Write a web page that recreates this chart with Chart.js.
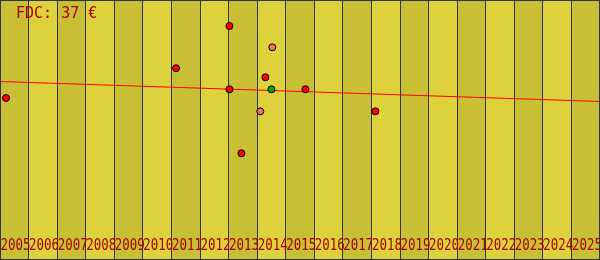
<!DOCTYPE html>
<html>
<head>
<meta charset="utf-8">
<script src="https://cdn.jsdelivr.net/npm/chart.js@4"></script>
<style>
html,body{margin:0;padding:0;background:#ddd23c;}
#c{display:block;}
</style>
</head>
<body>
<canvas id="c" width="600" height="260"></canvas>
<script>
// ---- data ----
const years = [2005,2006,2007,2008,2009,2010,2011,2012,2013,2014,2015,2016,2017,2018,2019,2020,2021,2022,2023,2024,2025];
const tickLabels = ['2005','2006','2007','2008','2009','2010','2011','2012','2013','2014','2015','2016','2017','2018','2019','2020','2021','2022','2023','2024','2025'];
const titleText = 'FDC: 37 €';

const redX = [2005.21, 2011.16, 2013.03, 2013.03, 2013.45, 2014.29, 2015.69, 2018.14];
const redY = [37.38, 44.24, 54.0, 39.39, 24.62, 42.16, 39.39, 34.3];
const pinkX = [2014.53, 2014.11];
const pinkY = [49.08, 34.3];
const greenX = [2014.50];
const greenY = [39.39];
const trendX = [2005, 2026];
const trendY = [41.19, 36.58];

const toPts = (xs, ys) => xs.map((x, i) => ({x: x, y: ys[i]}));

const bandPlugin = {
  id: 'bands',
  beforeDraw(chart) {
    const ctx = chart.ctx, xs = chart.scales.x, area = chart.chartArea;
    ctx.save();
    years.forEach((yr, i) => {
      const x0 = xs.getPixelForValue(yr), x1 = xs.getPixelForValue(yr + 1);
      ctx.fillStyle = (i % 2 === 0) ? '#c9bf34' : '#ddd23c';
      ctx.fillRect(x0, area.top, x1 - x0, area.bottom - area.top);
    });
    ctx.restore();
  },
  afterDraw(chart) {
    const ctx = chart.ctx, xs = chart.scales.x;
    ctx.save();
    ctx.fillStyle = '#a80000';
    ctx.font = '16px "DejaVu Sans Mono", monospace';
    ctx.textBaseline = 'alphabetic';
    ctx.textAlign = 'left';
    years.forEach((yr, i) => {
      const x0 = xs.getPixelForValue(yr);
      ctx.fillText(tickLabels[i], x0 + 0.5, 250, 30);
    });
    ctx.font = '15px "DejaVu Sans Mono", monospace';
    ctx.fillText(titleText, 16, 18);
    ctx.strokeStyle = '#333340';
    ctx.lineWidth = 1;
    ctx.strokeRect(0.5, 0.5, chart.width - 1, chart.height - 1);
    ctx.restore();
  }
};

new Chart(document.getElementById('c'), {
  type: 'scatter',
  data: {
    datasets: [
      {data: toPts(greenX, greenY), backgroundColor: '#10a010', borderColor: '#000', borderWidth: 1, pointRadius: 3.5, order: 1},
      {data: toPts(pinkX, pinkY), backgroundColor: '#f07070', borderColor: '#000', borderWidth: 1, pointRadius: 3.5, order: 2},
      {data: toPts(redX, redY), backgroundColor: '#ff0000', borderColor: '#000', borderWidth: 1, pointRadius: 3.5, order: 3},
      {data: toPts(trendX, trendY), showLine: true, borderColor: '#ff0000', borderWidth: 1, pointRadius: 0, fill: false, order: 4}
    ]
  },
  options: {
    responsive: false,
    animation: false,
    devicePixelRatio: 1,
    layout: {padding: 0, autoPadding: false},
    plugins: {legend: {display: false}, tooltip: {enabled: false}, title: {display: false}},
    scales: {
      x: {
        type: 'linear', min: 2005, max: 2026,
        ticks: {display: false, stepSize: 1},
        grid: {color: '#333340', lineWidth: 1, drawTicks: false},
        border: {display: true, color: '#333340'}
      },
      y: {type: 'linear', min: 0, max: 60, display: false}
    }
  },
  plugins: [bandPlugin]
});
</script>
</body>
</html>
